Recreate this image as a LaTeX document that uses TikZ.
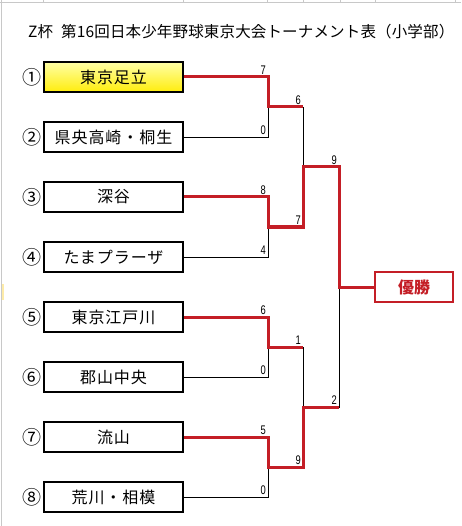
\documentclass[tikz,border=0pt]{standalone}
\usepackage{fontspec}
\setmainfont{Noto Sans CJK JP}
\newfontfamily\numfont{Liberation Sans}
\definecolor{winred}{RGB}{196,30,38}
\definecolor{gridgray}{RGB}{200,200,200}
\tikzset{
  team/.style={draw=black, line width=2pt, minimum width=139pt, minimum height=30pt, inner sep=0pt, fill=white, font=\fontsize{16}{16}\selectfont\addfontfeature{LetterSpace=6}},
  seed/.style={inner sep=0pt, font=\fontsize{19}{19}\selectfont},
  score/.style={inner sep=1pt, anchor=south east, font=\numfont\fontsize{12.5}{12.5}\selectfont},
  loseline/.style={draw=black, line width=0.9pt},
  winline/.style={draw=winred, line width=3pt, line join=miter},
  champ/.style={draw=winred, line width=2pt, minimum width=78pt, minimum height=30pt, inner sep=0pt, fill=white, text=winred, font=\fontsize{16}{16}\selectfont\bfseries},
}
\newcommand{\narrowdigit}[1]{\scalebox{0.75}[1]{#1}}
\begin{document}
\begin{tikzpicture}[x=1pt,y=-1pt]
\useasboundingbox (0,0) rectangle (461,526);
\fill[white] (0,0) rectangle (461,526);
% spreadsheet remnants
\draw[gridgray, line width=1pt] (0,2.5) -- (461,2.5);
\draw[gridgray, line width=1.2pt] (1.2,0) -- (1.2,526);
\foreach \gx in {43,183,267,303,340,375,455}
  \draw[gridgray, line width=0.6pt] (\gx,0) -- (\gx,2.5);
\fill[yellow!60!orange, opacity=0.35] (2,284) rectangle (4,300);
% title
\node[inner sep=0pt, anchor=west, font=\fontsize{15.5}{15.5}\selectfont\addfontfeature{LetterSpace=1}] (title) at (28,32) {Z杯\hspace{8pt}第16回日本少年野球東京大会トーナメント表（小学部）};
% teams
\node[team, top color=yellow!35, bottom color=yellow!85!orange!95] (t1) at (113.5,77) {東京足立};
\node[team] (t2) at (113.5,137) {県央高崎・桐生};
\node[team] (t3) at (113.5,197) {深谷};
\node[team] (t4) at (113.5,257) {たまプラーザ};
\node[team] (t5) at (113.5,317) {東京江戸川};
\node[team] (t6) at (113.5,377) {郡山中央};
\node[team] (t7) at (113.5,437) {流山};
\node[team] (t8) at (113.5,497) {荒川・相模};
\foreach \i/\s in {1/①,2/②,3/③,4/④,5/⑤,6/⑥,7/⑦,8/⑧}
  \node[seed] (n\i) at (32,17+60*\i) {\s};
% champion
\node[champ] (win) at (414,287) {優勝};
% junctions
\coordinate (a1) at (268,107);
\coordinate (a2) at (268,227);
\coordinate (a3) at (268,347);
\coordinate (a4) at (268,467);
\coordinate (b1) at (303,167);
\coordinate (b2) at (303,407);
\coordinate (c1) at (339,287);
% losing lines
\draw[loseline] (t2.east) -| (a1);
\draw[loseline] (t4.east) -| (a2);
\draw[loseline] (t6.east) -| (a3);
\draw[loseline] (t8.east) -| (a4);
\draw[loseline] (a1) -- ++(35,0) |- (b1);
\draw[loseline] (a3) -- ++(35,0) |- (b2);
\draw[loseline] (b2) -- ++(36,0) |- (c1);
% winning lines
\draw[winline] (t1.east) -| (a1) -- ++(35,0);
\draw[winline] (t3.east) -| (a2) -- ++(35,0) |- (b1) -- ++(36,0) |- (c1) -- (win.west);
\draw[winline] (t5.east) -| (a3) -- ++(35,0);
\draw[winline] (t7.east) -| (a4) -- ++(35,0) |- (b2) -- ++(36,0);
% scores
\node[score] (s1) at (267,75.5) {\narrowdigit{7}};
\node[score] (s2) at (267,135.5) {\narrowdigit{0}};
\node[score] (s3) at (267,195.5) {\narrowdigit{8}};
\node[score] (s4) at (267,255.5) {\narrowdigit{4}};
\node[score] (s5) at (267,315.5) {\narrowdigit{6}};
\node[score] (s6) at (267,375.5) {\narrowdigit{0}};
\node[score] (s7) at (267,435.5) {\narrowdigit{5}};
\node[score] (s8) at (267,495.5) {\narrowdigit{0}};
\node[score] (r1) at (302,105.5) {\narrowdigit{6}};
\node[score] (r2) at (302,225.5) {\narrowdigit{7}};
\node[score] (r3) at (302,345.5) {\narrowdigit{1}};
\node[score] (r4) at (302,465.5) {\narrowdigit{9}};
\node[score] (q1) at (338,165.5) {\narrowdigit{9}};
\node[score] (q2) at (338,405.5) {\narrowdigit{2}};
\end{tikzpicture}
\end{document}
